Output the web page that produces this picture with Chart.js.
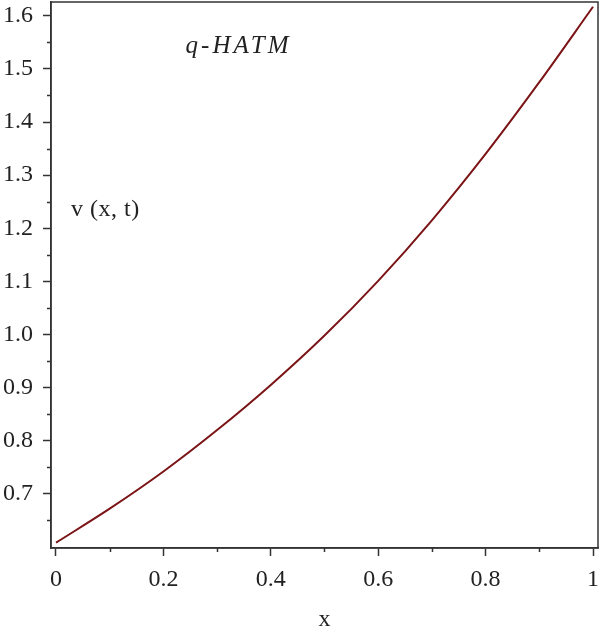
<!DOCTYPE html>
<html>
<head>
<meta charset="utf-8">
<script src="https://cdn.jsdelivr.net/npm/chart.js@4/dist/chart.umd.min.js"></script>
<style>
  html, body { margin: 0; padding: 0; background: #fff; }
  #wrap { width: 600px; height: 636px; }
</style>
</head>
<body>
<div id="wrap"><canvas id="graphCanvas"></canvas></div>
<script>
// values
const xValues = [0, 0.1, 0.2, 0.3, 0.4, 0.5, 0.6, 0.7, 0.8, 0.9, 1.0];
const vValues = [0.608, 0.672, 0.742, 0.820, 0.905, 0.998, 1.101, 1.215, 1.340, 1.475, 1.617];

const xMajorTicks = [0, 0.2, 0.4, 0.6, 0.8, 1];
const xMinorTicks = [0.1, 0.3, 0.5, 0.7, 0.9];
const yMajorTicks = [0.7, 0.8, 0.9, 1.0, 1.1, 1.2, 1.3, 1.4, 1.5, 1.6];
const yMinorTicks = [0.65, 0.75, 0.85, 0.95, 1.05, 1.15, 1.25, 1.35, 1.45, 1.55];

const axisColor = '#333';
const serif = "'Liberation Serif', 'DejaVu Serif', serif";

const frameAndMinor = {
  id: 'frameAndMinor',
  afterDraw(chart) {
    const ctx = chart.ctx;
    const a = chart.chartArea;
    const xs = chart.scales.x, ys = chart.scales.y;
    ctx.save();
    ctx.strokeStyle = axisColor;
    ctx.lineWidth = 1.5;
    ctx.strokeRect(a.left, a.top, a.right - a.left, a.bottom - a.top);
    ctx.beginPath();
    xMinorTicks.forEach(v => {
      const px = Math.round(xs.getPixelForValue(v)) + 0.5;
      ctx.moveTo(px, a.bottom);
      ctx.lineTo(px, a.bottom + 4);
    });
    yMinorTicks.forEach(v => {
      const py = Math.round(ys.getPixelForValue(v)) + 0.5;
      ctx.moveTo(a.left, py);
      ctx.lineTo(a.left - 4, py);
    });
    ctx.stroke();

    // text labels inside the plot
    ctx.fillStyle = '#222';
    ctx.textBaseline = 'middle';
    ctx.font = 'italic 25px ' + serif;
    ctx.letterSpacing = '3px';
    ctx.textAlign = 'center';
    ctx.fillText('q-HATM', xs.getPixelForValue(0.34), ys.getPixelForValue(1.542));
    ctx.letterSpacing = '0.5px';
    ctx.font = '24px ' + serif;
    ctx.textAlign = 'left';
    ctx.fillText('v (x, t)', xs.getPixelForValue(0.028), ys.getPixelForValue(1.235));
    ctx.restore();
  }
};

const ctx = document.getElementById('graphCanvas').getContext('2d');
const chart = new Chart(ctx, {
  type: 'line',
  data: {
    datasets: [{
      data: xValues.map((x, i) => ({ x: x, y: vValues[i] })),
      borderColor: '#7b1416',
      borderWidth: 2,
      pointRadius: 0,
      cubicInterpolationMode: 'monotone',
      fill: false
    }]
  },
  options: {
    responsive: true,
    maintainAspectRatio: false,
    animation: false,
    layout: { padding: { top: 2, right: 2, left: 0, bottom: 0 } },
    plugins: {
      legend: { display: false },
      tooltip: { enabled: false }
    },
    scales: {
      x: {
        type: 'linear',
        min: -0.0093,
        max: 1.0093,
        afterBuildTicks: s => { s.ticks = xMajorTicks.map(v => ({ value: v })); },
        afterFit: s => { s.height = 88; s.paddingLeft = 0; s.paddingRight = 0; },
        grid: { display: true, drawOnChartArea: false, tickLength: 8, tickColor: axisColor, tickWidth: 1.5 },
        border: { display: true, color: axisColor, width: 1.5 },
        ticks: {
          color: '#222',
          font: { family: serif, size: 24 },
          padding: 9,
          maxRotation: 0,
          callback: v => String(Math.round(v * 10) / 10)
        },
        title: {
          display: true,
          text: 'x',
          color: '#222',
          font: { family: serif, size: 24 },
          padding: { top: 0, bottom: 2 }
        }
      },
      y: {
        type: 'linear',
        min: 0.598,
        max: 1.626,
        afterBuildTicks: s => { s.ticks = yMajorTicks.map(v => ({ value: v })); },
        afterFit: s => { s.width = 51; s.paddingTop = 0; s.paddingBottom = 0; },
        grid: { display: true, drawOnChartArea: false, tickLength: 8, tickColor: axisColor, tickWidth: 1.5 },
        border: { display: true, color: axisColor, width: 1.5 },
        ticks: {
          color: '#222',
          font: { family: serif, size: 24 },
          padding: 10,
          callback: v => v.toFixed(1)
        }
      }
    }
  },
  plugins: [frameAndMinor]
});
</script>
</body>
</html>
